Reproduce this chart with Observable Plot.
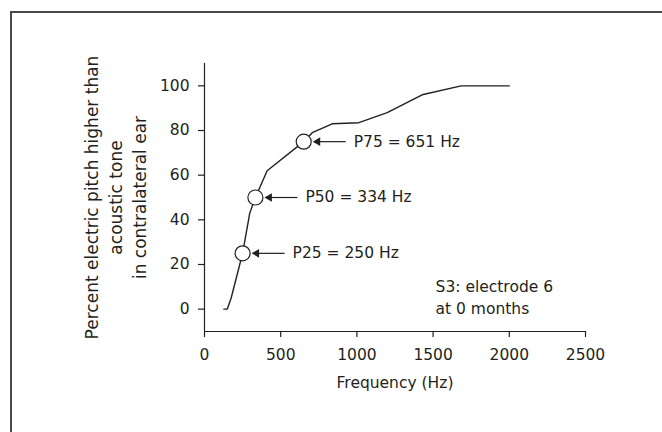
<!DOCTYPE html>
<html><head><meta charset="utf-8">
<script src="https://cdn.jsdelivr.net/npm/d3@7"></script>
<script src="https://cdn.jsdelivr.net/npm/@observablehq/plot@0.6"></script>
<style>
body{margin:0;background:#fff;}
#wrap{position:relative;width:662px;height:432px;overflow:hidden;}
#frame{position:absolute;left:10px;top:11px;width:700px;height:500px;border-left:2px solid #4a4a4a;border-top:2px solid #4a4a4a;}
#chart{position:absolute;left:0;top:0;}
</style></head>
<body><div id="wrap"><div id="frame"></div><div id="chart"></div></div>
<script>
const freqs = [127, 149, 175, 250, 297, 334, 411, 651, 707, 838, 1013, 1199, 1428, 1684, 2000];
const percents = [0, 0, 5, 25, 43, 50, 62, 75, 79, 83, 83.5, 88, 96, 100, 100];
const markerFreqs = [250, 334, 651];
const markerPercents = [25, 50, 75];
const markerLabels = ["P25 = 250 Hz", "P50 = 334 Hz", "P75 = 651 Hz"];
const xTicks = [0, 500, 1000, 1500, 2000, 2500];
const yTicks = [0, 20, 40, 60, 80, 100];
const noteText = "S3: electrode 6\nat 0 months";
const noteFreq = 1516;
const notePercent = 5.8;
const xLabel = "Frequency (Hz)";
const yLabel = "Percent electric pitch higher than\nacoustic tone\nin contralateral ear";

const curve = freqs.map((f, i) => ({freq: f, pct: percents[i]}));
const markers = markerFreqs.map((f, i) => ({freq: f, pct: markerPercents[i], label: markerLabels[i]}));

const W = 662, H = 432, mL = 204, mR = 77, mT = 63, mB = 101;
const hzPerPx = 2500 / (W - mL - mR);
const ink = "#231f20";
const font = "'DejaVu Sans', sans-serif";
const fs = 15.5;

const chart = Plot.plot({
  width: W, height: H,
  marginLeft: mL, marginRight: mR, marginTop: mT, marginBottom: mB,
  style: {fontFamily: font, fontSize: fs + "px", color: ink, background: "transparent"},
  x: {domain: [0, 2500]},
  y: {domain: [-10, 110]},
  marks: [
    Plot.ruleX([0], {stroke: ink, strokeWidth: 1.2}),
    Plot.ruleY([-10], {stroke: ink, strokeWidth: 1.2}),
    Plot.axisX({ticks: xTicks, tickSize: 6, tickPadding: 11, tickFormat: d => String(d), fontSize: fs, label: null, stroke: ink, strokeWidth: 1.2}),
    Plot.axisY({ticks: yTicks, tickSize: 6, tickPadding: 9, tickFormat: d => String(d), fontSize: fs, label: null, stroke: ink, strokeWidth: 1.2}),
    Plot.text([xLabel], {frameAnchor: "bottom", dy: 56, fontSize: fs, fill: ink}),
    Plot.text([yLabel], {frameAnchor: "left", rotate: -90, textAnchor: "middle", dx: -90, dy: 0, lineHeight: 1.41, fontSize: 17, fill: ink}),
    Plot.line(curve, {x: "freq", y: "pct", stroke: ink, strokeWidth: 1.4}),
    Plot.link(markers, {x1: d => d.freq + 42 * hzPerPx, x2: d => d.freq + 15 * hzPerPx, y1: "pct", y2: "pct", stroke: ink, strokeWidth: 1.2}),
    Plot.dot(markers, {x: "freq", y: "pct", symbol: "triangle", rotate: -90, r: 3.2, dx: 14, fill: ink, stroke: "none"}),
    Plot.dot(markers, {x: "freq", y: "pct", r: 7.5, fill: "white", stroke: ink, strokeWidth: 1.2}),
    Plot.text(markers, {x: "freq", y: "pct", text: "label", textAnchor: "start", dx: 50, fontSize: fs, fill: ink}),
    Plot.text([noteText], {x: () => noteFreq, y: () => notePercent, textAnchor: "start", lineHeight: 1.42, fontSize: fs, fill: ink})
  ]
});
document.getElementById("chart").appendChild(chart);
</script></body></html>
